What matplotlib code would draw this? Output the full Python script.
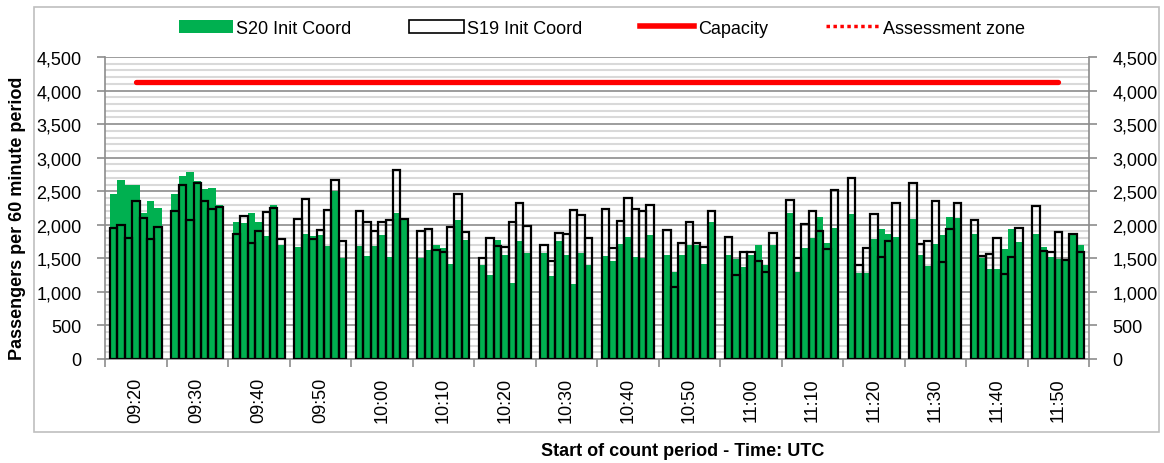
from typing import *

import matplotlib
matplotlib.use("Agg")
import matplotlib.pyplot as plt
from matplotlib.lines import Line2D
from matplotlib.patches import Patch, Rectangle
from matplotlib.ticker import FixedLocator, MultipleLocator, FuncFormatter

plt.rcParams["font.family"] = ["Liberation Sans", "DejaVu Sans"]

# one label per 10 minute block, 7 counts per block
timeLabels = ["09:20", "09:30", "09:40", "09:50", "10:00", "10:10", "10:20", "10:30",
              "10:40", "10:50", "11:00", "11:10", "11:20", "11:30", "11:40", "11:50"]

s20InitCoord = [
    [2460, 2670, 2595, 2595, 2170, 2355, 2250],
    [2460, 2720, 2785, 2645, 2535, 2545, 2295],
    [2035, 2020, 2170, 2035, 1835, 2295, 1695],
    [1670, 1870, 1830, 1845, 1685, 2500, 1510],
    [1685, 1535, 1685, 1845, 1525, 2175, 2070],
    [1510, 1620, 1695, 1655, 1420, 2065, 1775],
    [1400, 1245, 1770, 1545, 1135, 1765, 1580],
    [1575, 1235, 1755, 1550, 1125, 1585, 1400],
    [1535, 1465, 1710, 1825, 1525, 1505, 1845],
    [1555, 1300, 1545, 1705, 1695, 1410, 2040],
    [1545, 1485, 1365, 1550, 1695, 1405, 1700],
    [2170, 1300, 1650, 1805, 2115, 1735, 1945],
    [2155, 1285, 1275, 1795, 1935, 1860, 1825],
    [2085, 1545, 1385, 1720, 1850, 2120, 2105],
    [1860, 1510, 1345, 1345, 1635, 1935, 1750],
    [1860, 1675, 1525, 1495, 1490, 1860, 1695],
]

s19InitCoord = [
    [1945, 1995, 1810, 2350, 2095, 1795, 1960],
    [2210, 2600, 2075, 2620, 2355, 2235, 2270],
    [1860, 2125, 1725, 1910, 2185, 2245, 1795],
    [2085, 2385, 1790, 1925, 2225, 2670, 1760],
    [2200, 2045, 1910, 2035, 2075, 2820, 2085],
    [1910, 1935, 1625, 1600, 1970, 2455, 1895],
    [1510, 1800, 1685, 1670, 2035, 2320, 1975],
    [1695, 1460, 1875, 1860, 2225, 2145, 1810],
    [2235, 1650, 2060, 2405, 2235, 2210, 2300],
    [1925, 1070, 1735, 2035, 1735, 1670, 2205],
    [1825, 1250, 1595, 1595, 1465, 1300, 1880],
    [2375, 1500, 2015, 2210, 1900, 1635, 2520],
    [2700, 1400, 1660, 2165, 1525, 1760, 2320],
    [2620, 1720, 1755, 2350, 1445, 1930, 2320],
    [2075, 1535, 1570, 1810, 1265, 1515, 1955],
    [2275, 1610, 1595, 1885, 1475, 1865, 1595],
]

capacity = [4125, 4125, 4125, 4125, 4125, 4125, 4125, 4125,
            4125, 4125, 4125, 4125, 4125, 4125, 4125, 4125]

GREEN = "#00b050"
GRID_MAJOR = "#8c8c8c"
GRID_MINOR = "#d9d9d9"

W, H = 1164, 464
fig = plt.figure(figsize=(W / 100, H / 100), dpi=100)
ax = fig.add_axes([105 / W, 1 - 360 / H, (1089 - 105) / W, (360 - 58) / H])

# bar layout inside each 10 minute block (block = 1 x unit)
BAR_W = 0.12
PAD = 0.081

xs: List[float] = []
v20: List[int] = []
v19: List[int] = []
for g, (grp20, grp19) in enumerate(zip(s20InitCoord, s19InitCoord)):
    for k, (a, b) in enumerate(zip(grp20, grp19)):
        xs.append(g + PAD + BAR_W * (k + 0.5))
        v20.append(a)
        v19.append(b)

ax.bar(xs, v20, width=BAR_W, color=GREEN, linewidth=0, zorder=2)
ax.bar(xs, v19, width=BAR_W, fill=False, edgecolor="black", linewidth=1.6, zorder=3)

centers = [g + 0.5 for g in range(len(timeLabels))]
ax.plot(centers, capacity, color="red", linewidth=3.8, solid_capstyle="round", zorder=4)

ax.set_xlim(0, len(timeLabels))
ax.set_ylim(0, 4500)

# x axis: ticks on block edges, labels in the middle
ax.xaxis.set_major_locator(FixedLocator(list(range(len(timeLabels) + 1))))
ax.xaxis.set_minor_locator(FixedLocator(centers))
ax.set_xticklabels([], minor=False)
ax.set_xticklabels(timeLabels, minor=True, rotation=90, fontsize=13)
ax.tick_params(axis="x", which="major", length=6, width=1.2, color=GRID_MAJOR, direction="out")
ax.tick_params(axis="x", which="minor", length=0, pad=13)

# y axis on both sides
ax.yaxis.set_major_locator(MultipleLocator(500))
ax.yaxis.set_minor_locator(MultipleLocator(100))
ax.yaxis.set_major_formatter(FuncFormatter(lambda v, _: f"{int(v):,}"))
ax.tick_params(axis="y", which="major", left=True, right=True, labelleft=True, labelright=True,
               length=6, width=1.2, color=GRID_MAJOR, labelsize=13, pad=11)
ax.tick_params(axis="y", which="minor", left=False, right=False)

ax.set_axisbelow(True)
ax.grid(axis="y", which="minor", color=GRID_MINOR, linewidth=1.5)
ax.grid(axis="y", which="major", color=GRID_MAJOR, linewidth=1.2)

for side in ["left", "right", "bottom"]:
    ax.spines[side].set_color(GRID_MAJOR)
    ax.spines[side].set_linewidth(1.2)
ax.spines["top"].set_visible(False)

# outer chart border
fig.patches.append(Rectangle((34 / W, 1 - 433 / H), (1159 - 34) / W, (433 - 8) / H,
                             transform=fig.transFigure, fill=False, edgecolor="#bfbfbf", linewidth=1.2))

handles = [
    Patch(facecolor=GREEN, edgecolor="none"),
    Patch(facecolor="white", edgecolor="black", linewidth=1.2),
    Line2D([0], [0], color="red", linewidth=4),
    Line2D([0], [0], color="red", linewidth=2.5, linestyle=(0, (1, 1))),
]
fig.legend(handles, ["S20 Init Coord", "S19 Init Coord", "Capacity", "Assessment zone"],
           loc="center", bbox_to_anchor=(602 / W, 1 - 29 / H), ncol=4, frameon=False,
           fontsize=13, handlelength=3.0, handleheight=0.75, handletextpad=0.2, columnspacing=3.2)

fig.text(18 / W, 1 - 218 / H, "Passengers per 60 minute period", rotation=90,
         ha="center", va="center", fontsize=13, fontweight="bold")
fig.text(683 / W, 1 - 452 / H, "Start of count period - Time: UTC",
         ha="center", va="center", fontsize=13, fontweight="bold")

fig.savefig("out.png", dpi=100)
